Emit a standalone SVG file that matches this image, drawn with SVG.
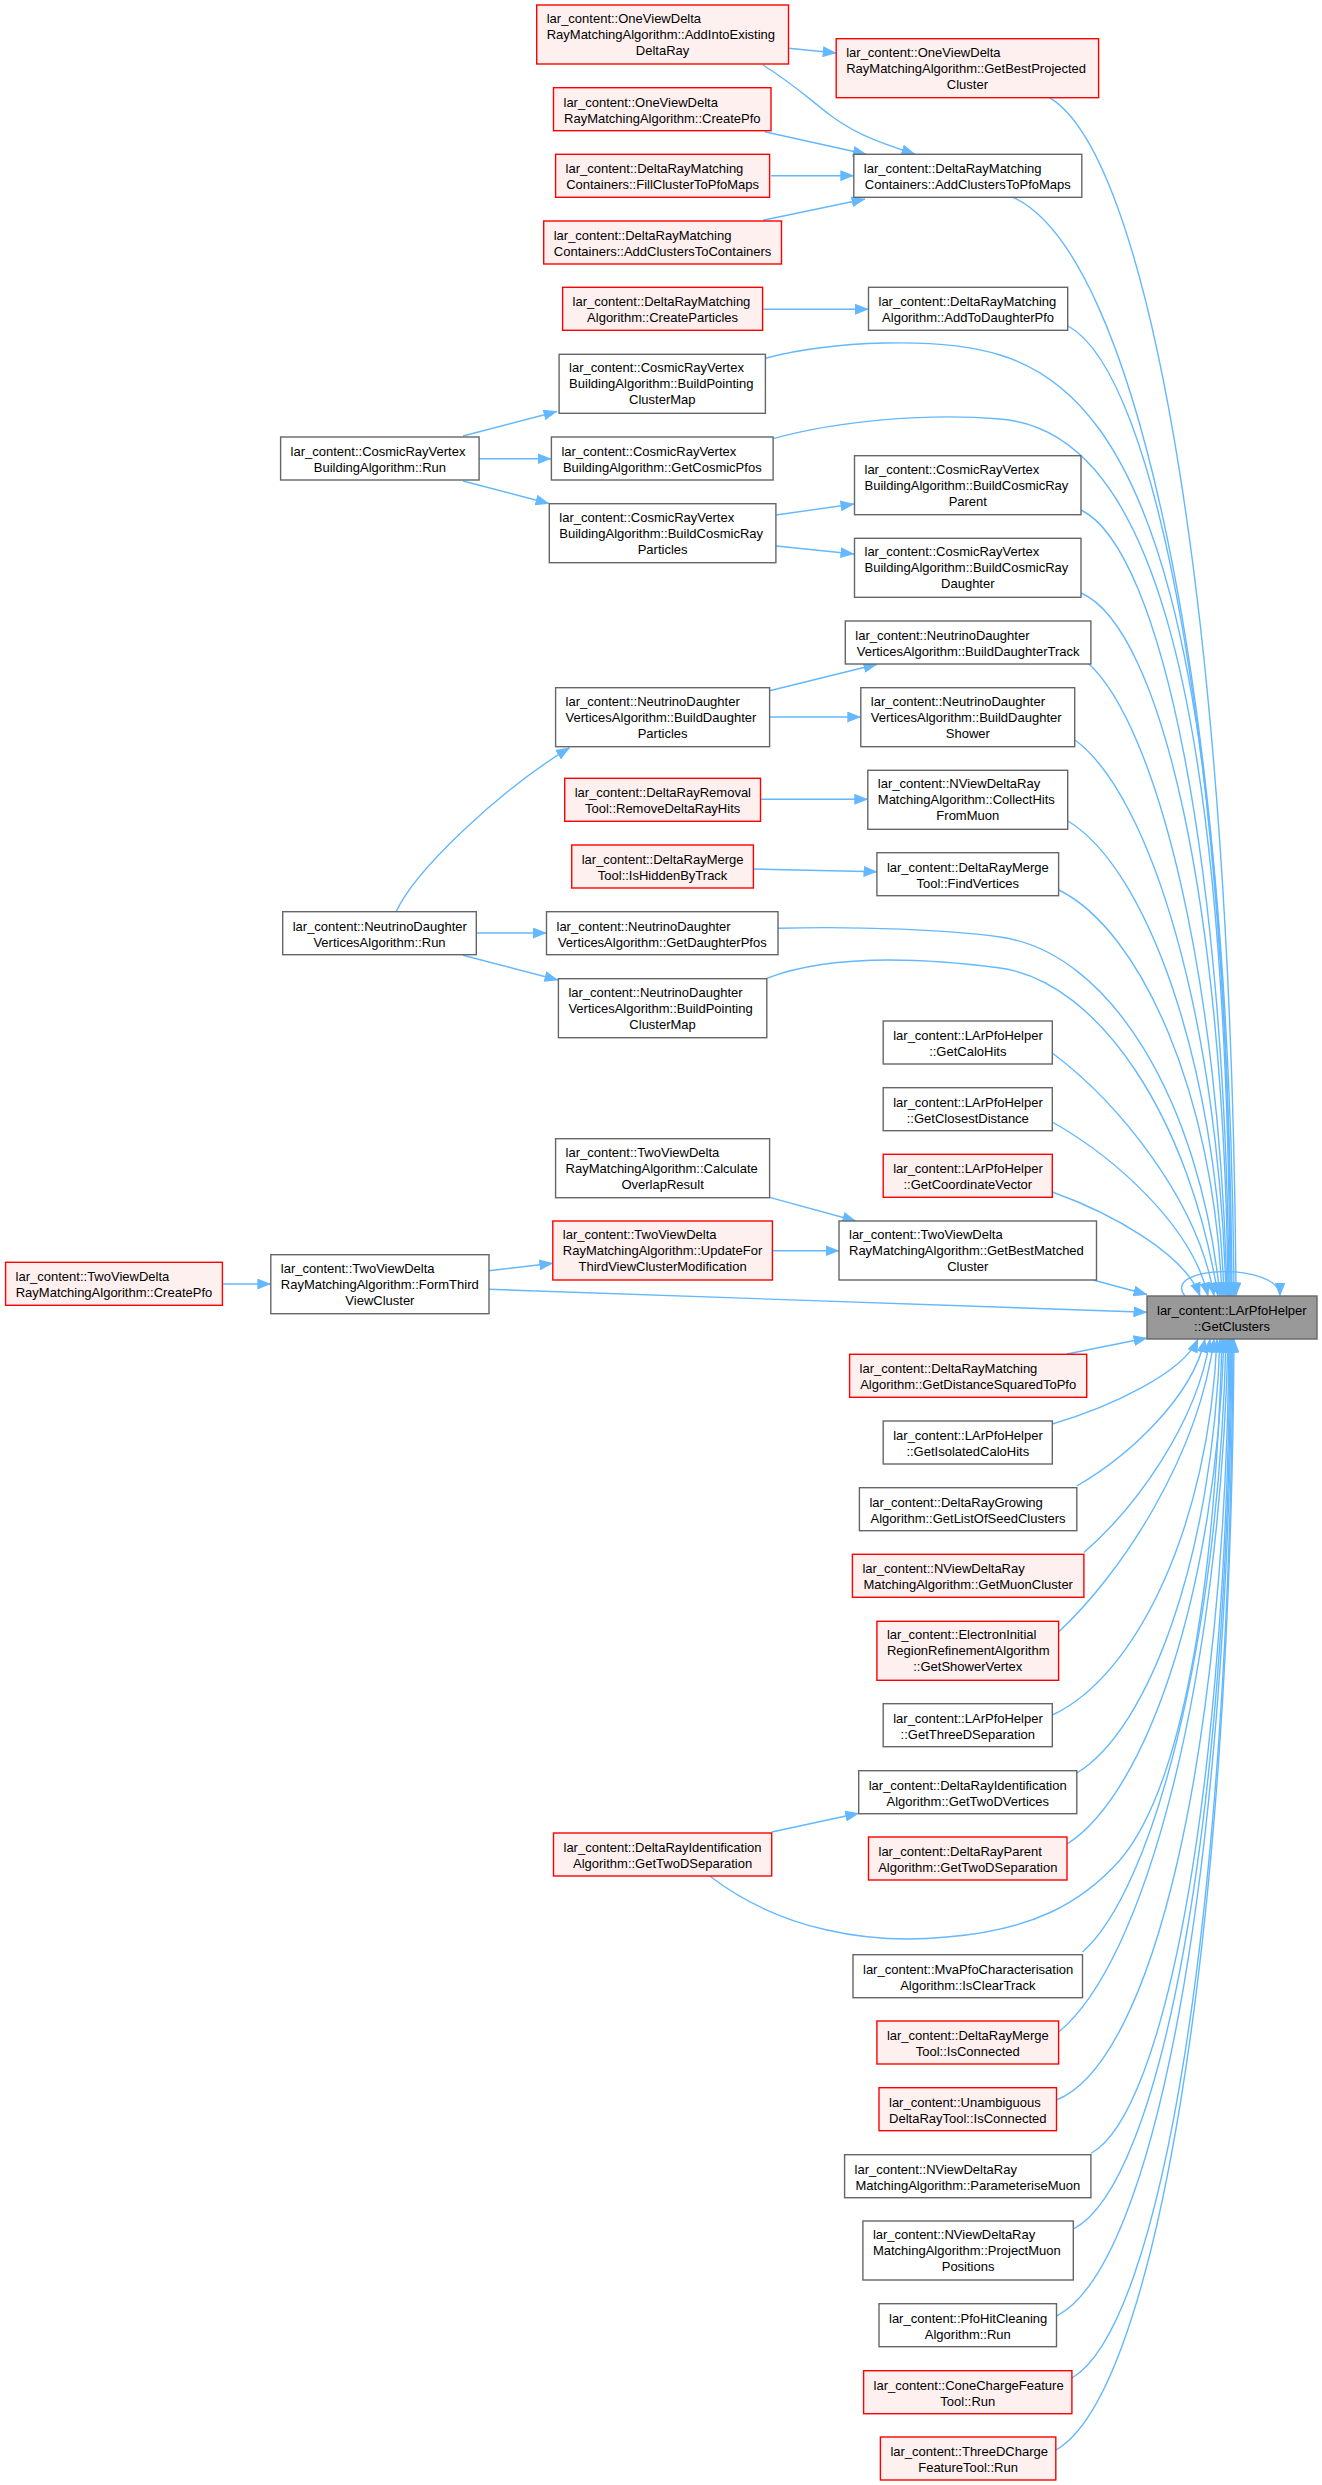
<svg xmlns="http://www.w3.org/2000/svg" width="1322" height="2485" viewBox="0 0 1322 2485">
<style>
text{font-family:"Liberation Sans",Arial,Helvetica,sans-serif;font-size:13px;fill:#000}
.m{text-anchor:middle}
.w{fill:#ffffff;stroke:#666666;stroke-width:1.4}
.r{fill:#fff0f0;stroke:#ff0000;stroke-width:1.4}
.g{fill:#999999;stroke:#666666;stroke-width:1.4}
#edges path{fill:none;stroke:#63b8ff;stroke-width:1.4;marker-end:url(#a)}
</style>
<defs>
<marker id="a" markerUnits="userSpaceOnUse" markerWidth="14" markerHeight="11" refX="13.5" refY="5.5" orient="auto"><path d="M0,0 L14,5.5 L0,11 z" fill="#63b8ff" stroke="none"/></marker>
</defs>
<rect x="0" y="0" width="1322" height="2485" fill="#ffffff"/>
<g id="edges">
<path d="M788.5,48.3 L836.2,53"/>
<path d="M763,65 C795,85 810,100 830,115 C850,130 870,140 915,154"/>
<path d="M764.6,131.7 L866.4,154.3"/>
<path d="M771,175.7 L853.8,175.7"/>
<path d="M763,220.3 L865,199"/>
<path d="M762.6,309.3 L868.5,309.3"/>
<path d="M463,436 L557,411.5"/>
<path d="M479,458.7 L551,458.7"/>
<path d="M463,481 L549,503.5"/>
<path d="M776,515 L854,504"/>
<path d="M776,546 L854,554"/>
<path d="M769.6,690.7 L877,664.3"/>
<path d="M769.6,717 L860.8,717"/>
<path d="M396,912 C415,870 500,790 569.6,747.7"/>
<path d="M760.5,799.3 L867.8,799.3"/>
<path d="M753.4,869 L877,871.7"/>
<path d="M476.3,933 L546.5,933"/>
<path d="M463,955.3 L558,980"/>
<path d="M769.6,1197.3 L856,1221"/>
<path d="M772.4,1250.7 L839,1250.7"/>
<path d="M489,1270.7 L552.8,1263.3"/>
<path d="M222.4,1284 L270.8,1284"/>
<path d="M771.7,1832 L858.7,1813.3"/>
<path d="M1049,97.3 C1152,157 1232,637 1236,1296"/>
<path d="M1013,197.3 C1135,252 1230,692 1234,1296"/>
<path d="M1068,326 C1158,374.5 1229,762.5 1232,1296"/>
<path d="M765.4,358.3 C830,341 940,336 1000,355 C1150,400 1228,640 1231,1296"/>
<path d="M773,438.7 C840,420 930,413 1000,419 C1140,430 1228,650 1230,1296"/>
<path d="M1081,510 C1162,549 1226,864 1229,1296"/>
<path d="M1081,593 C1162,628 1225,909 1228,1296"/>
<path d="M1088,663 C1157.5,726 1220,979.5 1227,1296"/>
<path d="M1075,740 C1150.5,795.6 1218.5,1018 1226,1296"/>
<path d="M1068,821 C1146,868.5 1216,1058.5 1224,1296"/>
<path d="M1059,890 C1140.5,930.6 1214,1093 1222,1296"/>
<path d="M778,928.3 C860,926 950,930 1000,937 C1110,952 1200,1100 1220,1296"/>
<path d="M766.8,978.3 C820,958 900,955 1000,968 C1100,982 1190,1120 1218,1296"/>
<path d="M1052.3,1053 C1117,1101.6 1198,1199 1214,1296"/>
<path d="M1052.3,1122 C1114,1157 1192.4,1226 1208,1296"/>
<path d="M1052.3,1192 C1111,1213 1185,1254 1200,1296"/>
<path d="M1093,1280 L1147,1294.5"/>
<path d="M489,1289.3 L1147,1312.3"/>
<path d="M1067,1354 L1147,1338"/>
<path d="M1185,1296 C1160,1265 1280,1262 1280,1296"/>
<path d="M1052.3,1424 C1110,1407 1183,1373 1198,1339"/>
<path d="M1076.8,1486 C1128,1456.6 1192,1398 1205,1339"/>
<path d="M1083.9,1552.5 C1134,1509 1197.4,1424 1210,1339"/>
<path d="M1058.6,1632 C1122,1573 1198.6,1456 1214,1339"/>
<path d="M1052.3,1715 C1135.5,1677 1209,1527 1217,1339"/>
<path d="M1076.8,1773 C1149,1729.6 1213,1556 1220,1339"/>
<path d="M710,1876.3 C780,1930 870,1945 947,1937 C1030,1930 1080,1905 1120,1860 C1180,1790 1215,1600 1222,1339"/>
<path d="M1067,1844 C1146.5,1793.5 1216,1591.5 1224,1339"/>
<path d="M1082.5,1952 C1152,1891 1218.6,1645.5 1226,1339"/>
<path d="M1058.6,2032 C1144,1962.7 1219.6,1685.5 1228,1339"/>
<path d="M1056.5,2100 C1152,2062 1225.6,1757.6 1229,1339"/>
<path d="M1090.9,2153.5 C1165.6,2112.8 1227,1787 1230,1339"/>
<path d="M1073.3,2229 C1160,2184.5 1228,1828.5 1231,1339"/>
<path d="M1056.5,2316 C1153.7,2267 1228.5,1876 1232,1339"/>
<path d="M1071.9,2378 C1161.5,2326 1230,1910.5 1233,1339"/>
<path d="M1055.8,2450 C1154,2394.5 1230.5,1950 1234,1339"/>
</g>
<g id="n1"><rect class="r" x="536.7" y="5" width="251.8" height="59"/><text x="546.7" y="23">lar_content::OneViewDelta</text><text x="546.7" y="39">RayMatchingAlgorithm::AddIntoExisting</text><text class="m" x="662.6" y="55">DeltaRay</text></g>
<g id="n2"><rect class="r" x="836.2" y="38.7" width="262.4" height="59"/><text x="846.2" y="56.7">lar_content::OneViewDelta</text><text x="846.2" y="72.7">RayMatchingAlgorithm::GetBestProjected</text><text class="m" x="967.4" y="88.7">Cluster</text></g>
<g id="n3"><rect class="r" x="553.5" y="87.7" width="217.5" height="43"/><text x="563.5" y="106.7">lar_content::OneViewDelta</text><text class="m" x="662.3" y="122.7">RayMatchingAlgorithm::CreatePfo</text></g>
<g id="n4"><rect class="w" x="853.8" y="154.3" width="228" height="43"/><text x="863.8" y="173.3">lar_content::DeltaRayMatching</text><text class="m" x="967.8" y="189.3">Containers::AddClustersToPfoMaps</text></g>
<g id="n5"><rect class="r" x="555.6" y="154.3" width="214" height="43"/><text x="565.6" y="173.3">lar_content::DeltaRayMatching</text><text class="m" x="662.6" y="189.3">Containers::FillClusterToPfoMaps</text></g>
<g id="n6"><rect class="r" x="543.7" y="221" width="237.8" height="43"/><text x="553.7" y="240">lar_content::DeltaRayMatching</text><text class="m" x="662.6" y="256">Containers::AddClustersToContainers</text></g>
<g id="n7"><rect class="r" x="562.6" y="287.3" width="200" height="43"/><text x="572.6" y="306.3">lar_content::DeltaRayMatching</text><text class="m" x="662.6" y="322.3">Algorithm::CreateParticles</text></g>
<g id="n8"><rect class="w" x="868.5" y="287.3" width="199.2" height="43"/><text x="878.5" y="306.3">lar_content::DeltaRayMatching</text><text class="m" x="968.1" y="322.3">Algorithm::AddToDaughterPfo</text></g>
<g id="n9"><rect class="w" x="559.1" y="354.3" width="206.3" height="59"/><text x="569.1" y="372.3">lar_content::CosmicRayVertex</text><text x="569.1" y="388.3">BuildingAlgorithm::BuildPointing</text><text class="m" x="662.3" y="404.3">ClusterMap</text></g>
<g id="n10"><rect class="w" x="280.6" y="437" width="198.5" height="43"/><text x="290.6" y="456">lar_content::CosmicRayVertex</text><text class="m" x="379.9" y="472">BuildingAlgorithm::Run</text></g>
<g id="n11"><rect class="w" x="551.4" y="437" width="221.7" height="43"/><text x="561.4" y="456">lar_content::CosmicRayVertex</text><text class="m" x="662.3" y="472">BuildingAlgorithm::GetCosmicPfos</text></g>
<g id="n12"><rect class="w" x="854.5" y="455.7" width="226.5" height="59"/><text x="864.5" y="473.7">lar_content::CosmicRayVertex</text><text x="864.5" y="489.7">BuildingAlgorithm::BuildCosmicRay</text><text class="m" x="967.8" y="505.7">Parent</text></g>
<g id="n13"><rect class="w" x="549.3" y="503.7" width="226.6" height="59"/><text x="559.3" y="521.7">lar_content::CosmicRayVertex</text><text x="559.3" y="537.7">BuildingAlgorithm::BuildCosmicRay</text><text class="m" x="662.6" y="553.7">Particles</text></g>
<g id="n14"><rect class="w" x="854.5" y="538.3" width="226.5" height="59"/><text x="864.5" y="556.3">lar_content::CosmicRayVertex</text><text x="864.5" y="572.3">BuildingAlgorithm::BuildCosmicRay</text><text class="m" x="967.8" y="588.3">Daughter</text></g>
<g id="n15"><rect class="w" x="845.3" y="621" width="245.6" height="43"/><text x="855.3" y="640">lar_content::NeutrinoDaughter</text><text class="m" x="968.1" y="656">VerticesAlgorithm::BuildDaughterTrack</text></g>
<g id="n16"><rect class="w" x="555.6" y="687.7" width="214" height="59"/><text x="565.6" y="705.7">lar_content::NeutrinoDaughter</text><text x="565.6" y="721.7">VerticesAlgorithm::BuildDaughter</text><text class="m" x="662.6" y="737.7">Particles</text></g>
<g id="n17"><rect class="w" x="860.8" y="687.7" width="213.9" height="59"/><text x="870.8" y="705.7">lar_content::NeutrinoDaughter</text><text x="870.8" y="721.7">VerticesAlgorithm::BuildDaughter</text><text class="m" x="967.8" y="737.7">Shower</text></g>
<g id="n18"><rect class="r" x="564.7" y="778.3" width="195.8" height="43"/><text x="574.7" y="797.3">lar_content::DeltaRayRemoval</text><text class="m" x="662.6" y="813.3">Tool::RemoveDeltaRayHits</text></g>
<g id="n19"><rect class="w" x="867.8" y="770.3" width="199.9" height="59"/><text x="877.8" y="788.3">lar_content::NViewDeltaRay</text><text x="877.8" y="804.3">MatchingAlgorithm::CollectHits</text><text class="m" x="967.8" y="820.3">FromMuon</text></g>
<g id="n20"><rect class="r" x="571.7" y="845" width="181.7" height="43"/><text x="581.7" y="864">lar_content::DeltaRayMerge</text><text class="m" x="662.6" y="880">Tool::IsHiddenByTrack</text></g>
<g id="n21"><rect class="w" x="876.9" y="852.7" width="181.7" height="43"/><text x="886.9" y="871.7">lar_content::DeltaRayMerge</text><text class="m" x="967.8" y="887.7">Tool::FindVertices</text></g>
<g id="n22"><rect class="w" x="282.7" y="911.7" width="193.6" height="43"/><text x="292.7" y="930.7">lar_content::NeutrinoDaughter</text><text class="m" x="379.5" y="946.7">VerticesAlgorithm::Run</text></g>
<g id="n23"><rect class="w" x="546.5" y="911.7" width="231.5" height="43"/><text x="556.5" y="930.7">lar_content::NeutrinoDaughter</text><text class="m" x="662.3" y="946.7">VerticesAlgorithm::GetDaughterPfos</text></g>
<g id="n24"><rect class="w" x="558.4" y="978.7" width="208.4" height="59"/><text x="568.4" y="996.7">lar_content::NeutrinoDaughter</text><text x="568.4" y="1012.7">VerticesAlgorithm::BuildPointing</text><text class="m" x="662.6" y="1028.7">ClusterMap</text></g>
<g id="n25"><rect class="w" x="883.2" y="1021" width="169.1" height="43"/><text x="893.2" y="1040">lar_content::LArPfoHelper</text><text class="m" x="967.8" y="1056">::GetCaloHits</text></g>
<g id="n26"><rect class="w" x="883.2" y="1087.7" width="169.1" height="43"/><text x="893.2" y="1106.7">lar_content::LArPfoHelper</text><text class="m" x="967.8" y="1122.7">::GetClosestDistance</text></g>
<g id="n27"><rect class="r" x="883.2" y="1154.3" width="169.1" height="43"/><text x="893.2" y="1173.3">lar_content::LArPfoHelper</text><text class="m" x="967.8" y="1189.3">::GetCoordinateVector</text></g>
<g id="n28"><rect class="w" x="555.6" y="1138.7" width="214" height="59"/><text x="565.6" y="1156.7">lar_content::TwoViewDelta</text><text x="565.6" y="1172.7">RayMatchingAlgorithm::Calculate</text><text class="m" x="662.6" y="1188.7">OverlapResult</text></g>
<g id="n29"><rect class="w" x="839" y="1221" width="257.5" height="59"/><text x="849" y="1239">lar_content::TwoViewDelta</text><text x="849" y="1255">RayMatchingAlgorithm::GetBestMatched</text><text class="m" x="967.8" y="1271">Cluster</text></g>
<g id="n30"><rect class="r" x="552.8" y="1221" width="219.6" height="59"/><text x="562.8" y="1239">lar_content::TwoViewDelta</text><text x="562.8" y="1255">RayMatchingAlgorithm::UpdateFor</text><text class="m" x="662.6" y="1271">ThirdViewClusterModification</text></g>
<g id="n31"><rect class="w" x="270.8" y="1254.7" width="218.2" height="59"/><text x="280.8" y="1272.7">lar_content::TwoViewDelta</text><text x="280.8" y="1288.7">RayMatchingAlgorithm::FormThird</text><text class="m" x="379.9" y="1304.7">ViewCluster</text></g>
<g id="n32"><rect class="r" x="5.6" y="1262.3" width="216.8" height="43"/><text x="15.6" y="1281.3">lar_content::TwoViewDelta</text><text class="m" x="114" y="1297.3">RayMatchingAlgorithm::CreatePfo</text></g>
<g id="target"><rect class="g" x="1147" y="1296" width="170" height="43"/><text x="1157" y="1315">lar_content::LArPfoHelper</text><text class="m" x="1232" y="1331">::GetClusters</text></g>
<g id="n33"><rect class="r" x="849.6" y="1354.3" width="237.1" height="43"/><text x="859.6" y="1373.3">lar_content::DeltaRayMatching</text><text class="m" x="968.2" y="1389.3">Algorithm::GetDistanceSquaredToPfo</text></g>
<g id="n34"><rect class="w" x="883.2" y="1421" width="169.1" height="43"/><text x="893.2" y="1440">lar_content::LArPfoHelper</text><text class="m" x="967.8" y="1456">::GetIsolatedCaloHits</text></g>
<g id="n35"><rect class="w" x="859.4" y="1487.7" width="217.4" height="43"/><text x="869.4" y="1506.7">lar_content::DeltaRayGrowing</text><text class="m" x="968.1" y="1522.7">Algorithm::GetListOfSeedClusters</text></g>
<g id="n36"><rect class="r" x="852.4" y="1554.3" width="231.5" height="43"/><text x="862.4" y="1573.3">lar_content::NViewDeltaRay</text><text class="m" x="968.2" y="1589.3">MatchingAlgorithm::GetMuonCluster</text></g>
<g id="n37"><rect class="r" x="876.9" y="1621.3" width="181.7" height="59"/><text x="886.9" y="1639.3">lar_content::ElectronInitial</text><text x="886.9" y="1655.3">RegionRefinementAlgorithm</text><text class="m" x="967.8" y="1671.3">::GetShowerVertex</text></g>
<g id="n38"><rect class="w" x="883.2" y="1703.7" width="169.1" height="43"/><text x="893.2" y="1722.7">lar_content::LArPfoHelper</text><text class="m" x="967.8" y="1738.7">::GetThreeDSeparation</text></g>
<g id="n39"><rect class="w" x="858.7" y="1770.7" width="218.1" height="43"/><text x="868.7" y="1789.7">lar_content::DeltaRayIdentification</text><text class="m" x="967.8" y="1805.7">Algorithm::GetTwoDVertices</text></g>
<g id="n40"><rect class="r" x="553.5" y="1833" width="218.2" height="43"/><text x="563.5" y="1852">lar_content::DeltaRayIdentification</text><text class="m" x="662.6" y="1868">Algorithm::GetTwoDSeparation</text></g>
<g id="n41"><rect class="r" x="868.5" y="1837" width="198.5" height="43"/><text x="878.5" y="1856">lar_content::DeltaRayParent</text><text class="m" x="967.8" y="1872">Algorithm::GetTwoDSeparation</text></g>
<g id="n42"><rect class="w" x="853" y="1954.7" width="229.5" height="43"/><text x="863" y="1973.7">lar_content::MvaPfoCharacterisation</text><text class="m" x="967.8" y="1989.7">Algorithm::IsClearTrack</text></g>
<g id="n43"><rect class="r" x="876.9" y="2021" width="181.7" height="43"/><text x="886.9" y="2040">lar_content::DeltaRayMerge</text><text class="m" x="967.8" y="2056">Tool::IsConnected</text></g>
<g id="n44"><rect class="r" x="879" y="2087.7" width="177.5" height="43"/><text x="889" y="2106.7">lar_content::Unambiguous</text><text class="m" x="967.8" y="2122.7">DeltaRayTool::IsConnected</text></g>
<g id="n45"><rect class="w" x="844.6" y="2154.7" width="246.3" height="43"/><text x="854.6" y="2173.7">lar_content::NViewDeltaRay</text><text class="m" x="967.8" y="2189.7">MatchingAlgorithm::ParameteriseMuon</text></g>
<g id="n46"><rect class="w" x="862.9" y="2221" width="210.4" height="59"/><text x="872.9" y="2239">lar_content::NViewDeltaRay</text><text x="872.9" y="2255">MatchingAlgorithm::ProjectMuon</text><text class="m" x="968.1" y="2271">Positions</text></g>
<g id="n47"><rect class="w" x="879" y="2303.7" width="177.5" height="43"/><text x="889" y="2322.7">lar_content::PfoHitCleaning</text><text class="m" x="967.8" y="2338.7">Algorithm::Run</text></g>
<g id="n48"><rect class="r" x="863.6" y="2370.7" width="208.3" height="43"/><text x="873.6" y="2389.7">lar_content::ConeChargeFeature</text><text class="m" x="967.8" y="2405.7">Tool::Run</text></g>
<g id="n49"><rect class="r" x="880.4" y="2437" width="175.4" height="43"/><text x="890.4" y="2456">lar_content::ThreeDCharge</text><text class="m" x="968.1" y="2472">FeatureTool::Run</text></g>
</svg>
